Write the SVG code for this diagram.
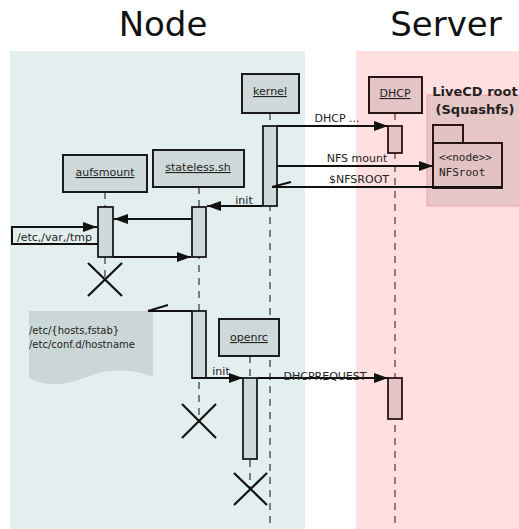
<svg xmlns="http://www.w3.org/2000/svg" width="519" height="529" viewBox="0 0 519 529">
<style>
.title{font-family:"DejaVu Sans",sans-serif;font-size:34px;fill:#111;text-anchor:middle}
.lbl{font-family:"DejaVu Sans",sans-serif;font-size:11px;fill:#222}
.name{font-family:"DejaVu Sans",sans-serif;font-size:11px;fill:#222;text-anchor:middle;text-decoration:underline}
.box{fill:#cfd9d9;stroke:#1a1a1a;stroke-width:2}
.sbox{fill:#e4c4c6;stroke:#2a1414;stroke-width:2}
.bar{fill:#cfd9d9;stroke:#1a1a1a;stroke-width:1.8}
.sbar{fill:#e4c4c6;stroke:#2a1414;stroke-width:1.8}
.life{stroke:#333;stroke-width:1.2;stroke-dasharray:7,6;fill:none}
.slife{stroke:#5a3030;stroke-width:1.2;stroke-dasharray:7,6;fill:none}
.msg{stroke:#111;stroke-width:2;fill:none}
.x{stroke:#111;stroke-width:2.2}
.mono{font-family:"DejaVu Sans Mono",monospace;font-size:11px;fill:#222}
</style>
<defs>
<marker id="arr" viewBox="0 0 14 10" refX="14" refY="5" markerWidth="14" markerHeight="10" orient="auto" markerUnits="userSpaceOnUse">
<path d="M0,0 L14,5 L0,10 z" fill="#111"/>
</marker>
</defs>
<text class="title" x="163" y="36">Node</text>
<text class="title" x="446" y="36">Server</text>
<rect x="10" y="51" width="295" height="478" fill="#e3efef"/>
<rect x="356" y="51" width="163" height="478" fill="#ffdfdf"/>
<g id="livecd">
<rect x="427" y="95" width="95" height="111" fill="#e6c6c7" stroke="#f2a2a2" stroke-width="1"/>
<text x="475" y="96" font-family="DejaVu Sans,sans-serif" font-size="13" font-weight="bold" fill="#222" text-anchor="middle">LiveCD root</text>
<text x="475" y="114" font-family="DejaVu Sans,sans-serif" font-size="13" font-weight="bold" fill="#222" text-anchor="middle">(Squashfs)</text>
</g>
<g id="lifelines">
<line class="life" x1="270" y1="113" x2="270" y2="529"/>
<line class="slife" x1="395" y1="113" x2="395" y2="529"/>
<line class="life" x1="199" y1="187" x2="199" y2="421"/>
<line class="life" x1="105" y1="192" x2="105" y2="279"/>
<line class="life" x1="250" y1="356" x2="250" y2="489"/>
</g>
<g id="kernel">
<rect class="box" x="242" y="74" width="57" height="39"/>
<text class="name" x="270" y="95">kernel</text>
<rect class="bar" x="263" y="126" width="14" height="80"/>
</g>
<g id="dhcp">
<rect class="sbox" x="369" y="77" width="53" height="36"/>
<text class="name" x="395" y="97">DHCP</text>
<rect class="sbar" x="388" y="126" width="14" height="27"/>
<rect class="sbar" x="388" y="378" width="14" height="41"/>
</g>
<g id="nfsroot">
<rect x="433" y="125" width="30" height="18" fill="#e2c2c3" stroke="#2a1414" stroke-width="2"/>
<rect x="433" y="143" width="69" height="45" fill="#e2c2c3" stroke="#2a1414" stroke-width="2"/>
<text class="mono" x="439" y="161" font-size="10.5">&lt;&lt;node&gt;&gt;</text>
<text class="mono" x="439" y="176">NFSroot</text>
</g>
<g id="stateless">
<rect class="box" x="153" y="150" width="91" height="37"/>
<text class="name" x="198" y="171">stateless.sh</text>
<rect class="bar" x="192" y="207" width="14" height="50"/>
<rect class="bar" x="192" y="311" width="14" height="67"/>
<path class="x" d="M182,404 L216,438 M216,404 L182,438"/>
</g>
<g id="aufsmount">
<rect class="box" x="63" y="155" width="84" height="37"/>
<text class="name" x="105" y="176">aufsmount</text>
<rect class="bar" x="98" y="207" width="15" height="50"/>
<path class="x" d="M88,263 L122,296 M122,263 L88,296"/>
</g>
<g id="openrc">
<rect class="box" x="219" y="319" width="60" height="37"/>
<text class="name" x="249" y="341">openrc</text>
<rect class="bar" x="243" y="378" width="14" height="81"/>
<path class="x" d="M234,473 L267,505 M267,473 L234,505"/>
</g>
<g id="note">
<path d="M29,311 L153,311 L153,377 C138,371 118,368 98,373 C78,379 58,392 29,378 Z" fill="#cbd6d6"/>
<text x="29" y="334" font-family="DejaVu Sans,sans-serif" font-size="10" fill="#222">/etc/{hosts,fstab}</text>
<text x="29" y="348" font-family="DejaVu Sans,sans-serif" font-size="10" fill="#222">/etc/conf.d/hostname</text>
</g>
<g id="connectors">
<line class="msg" x1="277" y1="126" x2="388" y2="126" marker-end="url(#arr)"/>
<text class="lbl" x="337" y="122" text-anchor="middle">DHCP ...</text>
<line class="msg" x1="277" y1="166" x2="433" y2="166" marker-end="url(#arr)"/>
<text class="lbl" x="357" y="162" text-anchor="middle">NFS mount</text>
<line class="msg" x1="502" y1="187" x2="272" y2="187"/>
<line class="msg" x1="272" y1="187" x2="291" y2="182"/>
<text class="lbl" x="359" y="183" text-anchor="middle">$NFSROOT</text>
<line class="msg" x1="263" y1="206" x2="207" y2="206" marker-end="url(#arr)"/>
<text class="lbl" x="244" y="204" text-anchor="middle">init</text>
<line class="msg" x1="192" y1="219" x2="114" y2="219" marker-end="url(#arr)"/>
<line class="msg" x1="113" y1="257" x2="191" y2="257" marker-end="url(#arr)"/>
<path class="msg" d="M98,244 H12 V227 H97" marker-end="url(#arr)"/>
<text class="lbl" x="17" y="241">/etc,/var,/tmp</text>
<line class="msg" x1="192" y1="311" x2="148" y2="311"/>
<line class="msg" x1="148" y1="311" x2="168" y2="305"/>
<line class="msg" x1="192" y1="378" x2="243" y2="378" marker-end="url(#arr)"/>
<text class="lbl" x="221" y="375" text-anchor="middle">init</text>
<line class="msg" x1="257" y1="378" x2="388" y2="378" marker-end="url(#arr)"/>
<text class="lbl" x="325" y="380" text-anchor="middle">DHCPREQUEST</text>
</g>
</svg>
